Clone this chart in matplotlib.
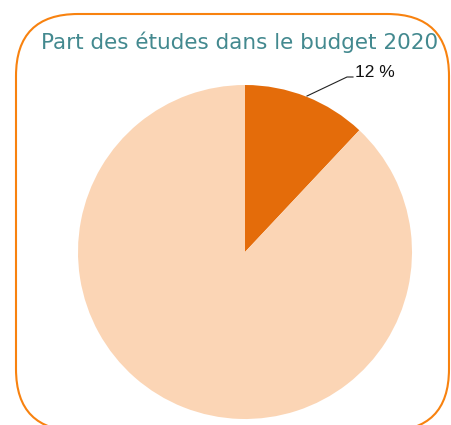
import matplotlib
matplotlib.use("Agg")
import matplotlib.pyplot as plt
from matplotlib.patches import FancyBboxPatch

# data
title = "Part des études dans le budget 2020"
labels = ["Études", "Autres"]
values = [12, 88]
colors = ["#E46C0A", "#FBD5B5"]

W, H = 451, 425
fig = plt.figure(figsize=(W / 100, H / 100), dpi=100)
ax = fig.add_axes([0, 0, 1, 1])

# rounded orange frame (runs off the bottom edge)
frame = FancyBboxPatch((16, H - 431), 433, 417,
                       boxstyle="round,pad=0,rounding_size=62",
                       facecolor="none", edgecolor="#F8820F", linewidth=1.5)
ax.add_patch(frame)

cx, cy, r = 245, H - 252, 167
wedges, _ = ax.pie(values, colors=colors, startangle=90, counterclock=False,
                   center=(cx, cy), radius=r, frame=True)
ax.set_xlim(0, W)
ax.set_ylim(0, H)
ax.set_aspect("equal")
ax.axis("off")

ax.plot([307, 347, 353], [H - 96, H - 77, H - 77], color="#222222", lw=0.8)
ax.text(355, H - 72, f"{values[0]} %", fontsize=12.5, family="Liberation Sans",
        ha="left", va="center", color="#111111")

ax.text(240, H - 42, title, fontsize=15.5, color="#43898F",
        ha="center", va="center")

fig.savefig("out.png", dpi=100)
